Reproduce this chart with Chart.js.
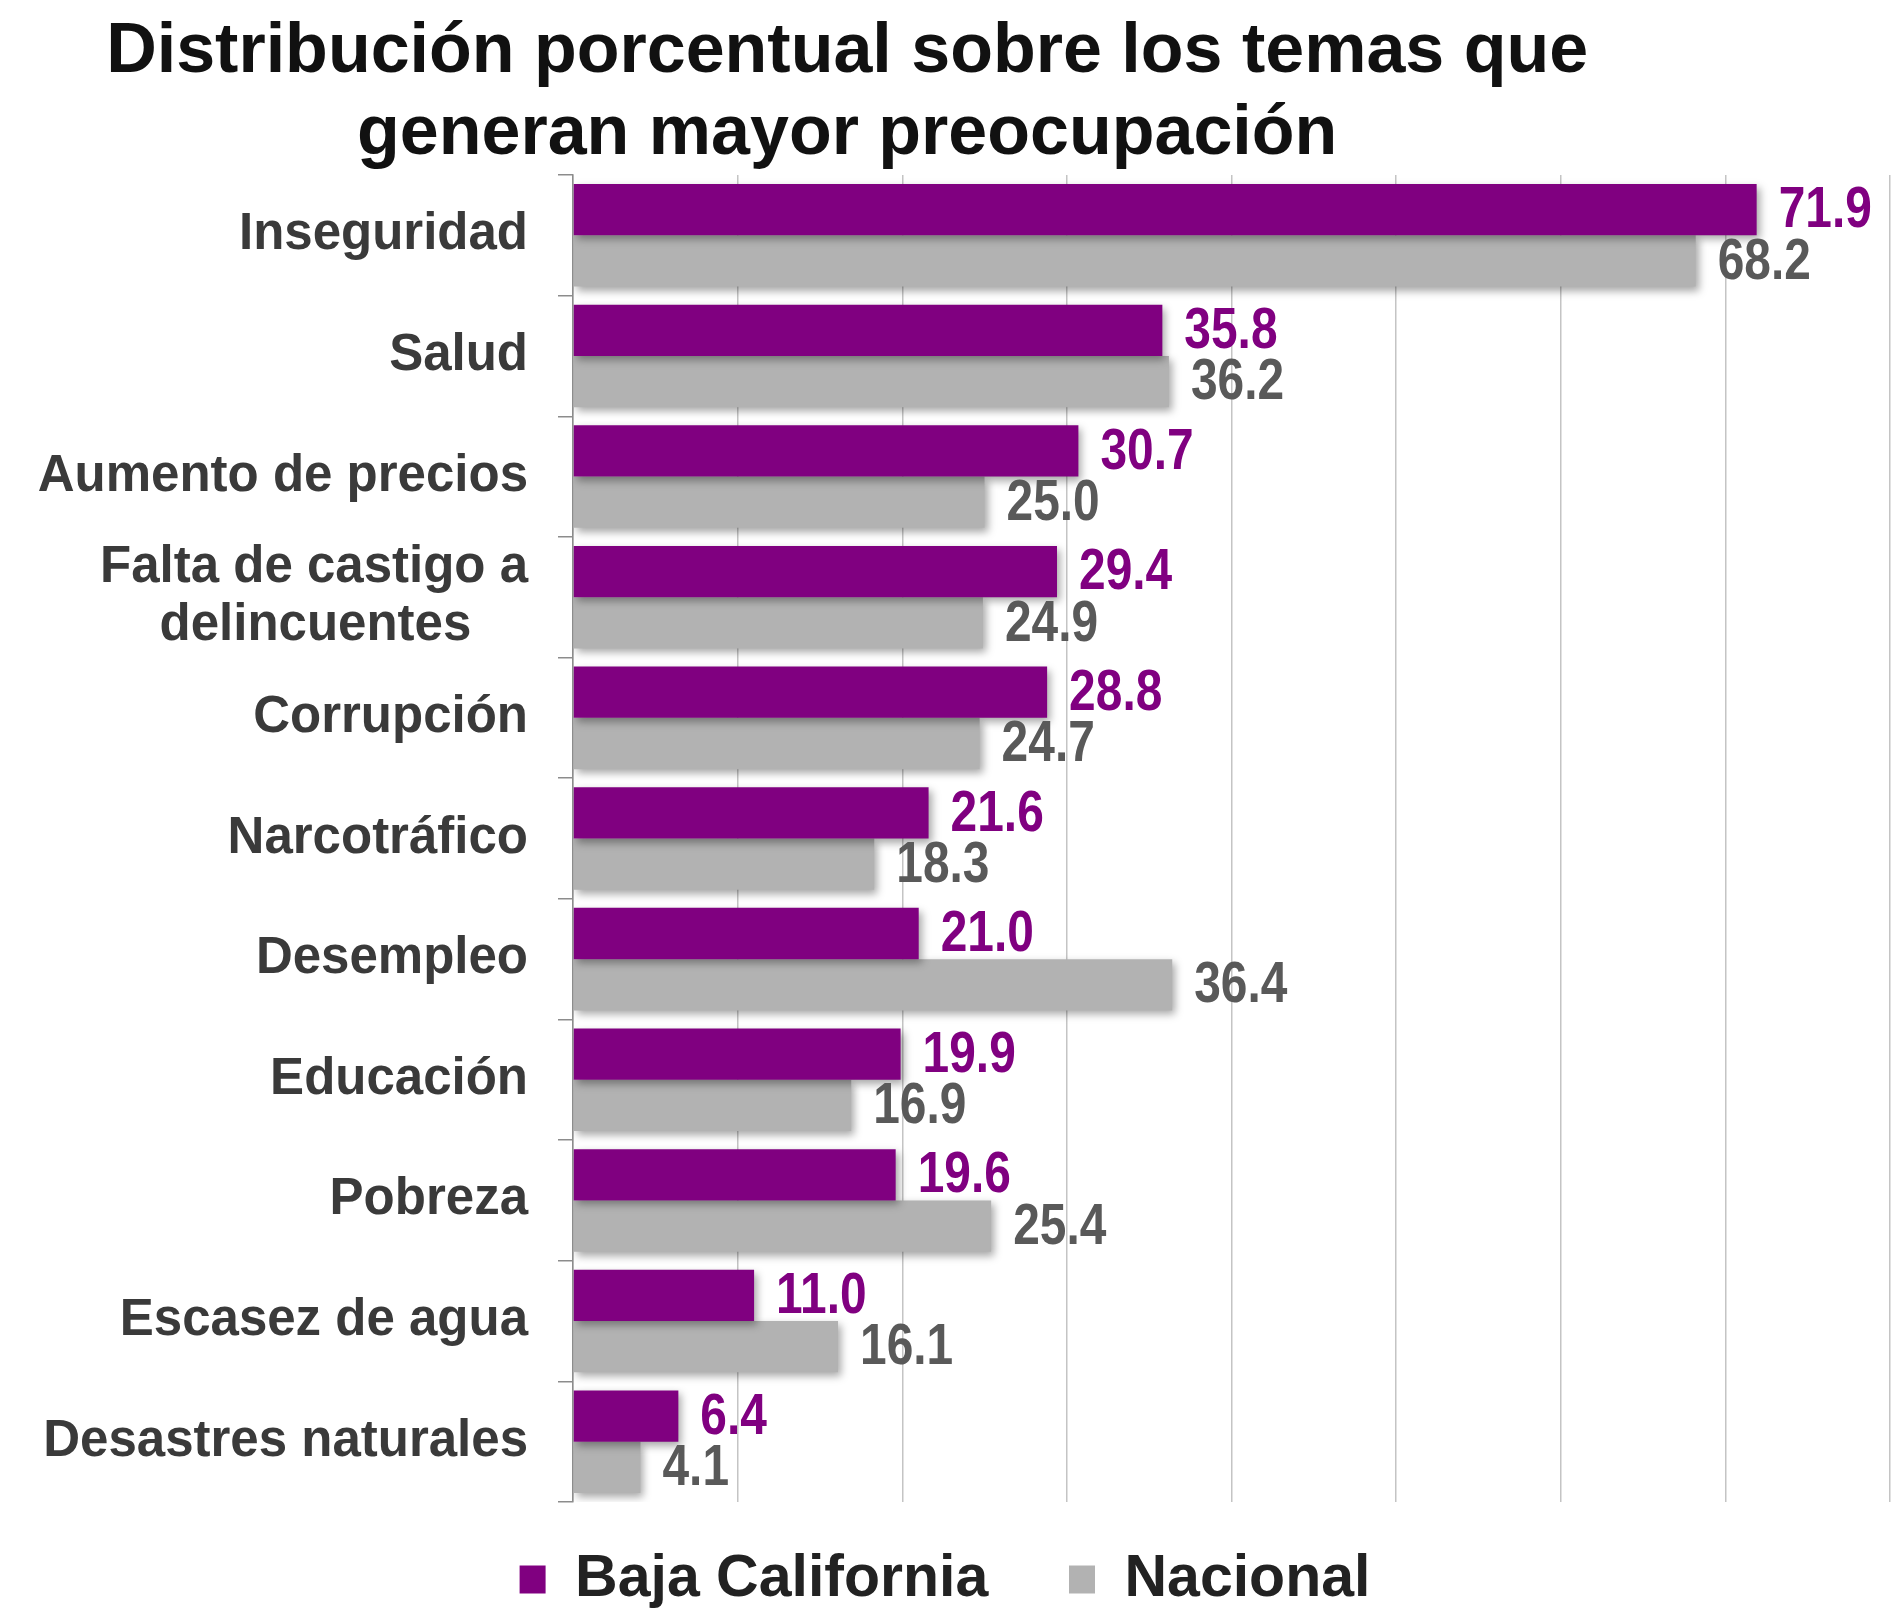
<!DOCTYPE html>
<html lang="es">
<head>
<meta charset="UTF-8">
<title>Distribución porcentual sobre los temas que generan mayor preocupación</title>
<script src="https://cdn.jsdelivr.net/npm/chart.js@4.4.1/dist/chart.umd.min.js"></script>
<style>
    html, body { margin: 0; padding: 0; background: #fff; }
    #wrap { width: 1891px; height: 1619px; position: relative; }
</style>
</head>
<body>
<div id="wrap"><canvas id="myChart"></canvas></div>
<script>

    const categorias = [
        "Inseguridad",
        "Salud",
        "Aumento de precios",
        ["Falta de castigo a", "delincuentes\u00a0\u00a0\u00a0\u00a0"],
        "Corrupción",
        "Narcotráfico",
        "Desempleo",
        "Educación",
        "Pobreza",
        "Escasez de agua",
        "Desastres naturales"
    ];
    const bajaCalifornia = [71.9, 35.8, 30.7, 29.4, 28.8, 21.6, 21.0, 19.9, 19.6, 11.0, 6.4];
    const nacional = [68.2, 36.2, 25.0, 24.9, 24.7, 18.3, 36.4, 16.9, 25.4, 16.1, 4.1];
    const series = ["Baja California", "Nacional"];
    const titulo = ["Distribución porcentual sobre los temas que", "generan mayor preocupación"];
    const ejeMin = 0, ejeMax = 80, ejePaso = 10;

    const morado = "#800080";
    const gris = "#b2b2b2";

    Chart.defaults.font.family = '"Liberation Sans", Arial, sans-serif';

    // titulo en dos lineas (centrado un poco a la izquierda, como en el original)
    const tituloPlugin = {
        id: "tituloPlugin",
        afterDraw(chart) {
            const ctx = chart.ctx;
            ctx.save();
            ctx.font = 'bold 70px "Liberation Sans", Arial, sans-serif';
            ctx.fillStyle = "#111";
            ctx.textAlign = "center";
            ctx.textBaseline = "alphabetic";
            const cx = chart.width * 0.448;
            ctx.fillText(titulo[0], cx, 72);
            ctx.fillText(titulo[1], cx, 154);
            ctx.restore();
        }
    };

    // sombra suave bajo las barras
    const sombraPlugin = {
        id: "sombraPlugin",
        beforeDatasetDraw(chart) {
            const ctx = chart.ctx;
            ctx.save();
            ctx.shadowColor = "rgba(0,0,0,0.35)";
            ctx.shadowBlur = 8;
            ctx.shadowOffsetX = 3;
            ctx.shadowOffsetY = 4;
        },
        afterDatasetDraw(chart) {
            chart.ctx.restore();
        }
    };

    // etiquetas de valor al final de cada barra (letra estrecha)
    const valoresPlugin = {
        id: "valoresPlugin",
        afterDatasetsDraw(chart) {
            const ctx = chart.ctx;
            chart.data.datasets.forEach((ds, i) => {
                const meta = chart.getDatasetMeta(i);
                meta.data.forEach((bar, j) => {
                    ctx.save();
                    ctx.font = 'bold 57px "Liberation Sans", Arial, sans-serif';
                    ctx.textAlign = "left";
                    ctx.textBaseline = "middle";
                    ctx.fillStyle = i === 0 ? morado : "#595959";
                    ctx.translate(bar.x + 22, bar.y + 2);
                    ctx.scale(0.84, 1);
                    ctx.fillText(ds.data[j].toFixed(1), 0, 0);
                    ctx.restore();
                });
            });
        }
    };

    const myChart = new Chart("myChart", {
        type: "bar",
        data: {
            labels: categorias,
            datasets: [
                {
                    label: series[0],
                    data: bajaCalifornia,
                    backgroundColor: morado,
                    categoryPercentage: 0.85,
                    barPercentage: 1.0
                },
                {
                    label: series[1],
                    data: nacional,
                    backgroundColor: gris,
                    categoryPercentage: 0.85,
                    barPercentage: 1.0
                }
            ]
        },
        options: {
            indexAxis: "y",
            responsive: true,
            maintainAspectRatio: false,
            animation: false,
            layout: {
                padding: { top: 175, right: 1, bottom: 0, left: 0 }
            },
            scales: {
                x: {
                    min: ejeMin,
                    max: ejeMax,
                    ticks: { display: false, stepSize: ejePaso },
                    grid: { color: "#c4c4c4", lineWidth: 1.5, drawTicks: false },
                    border: { display: false }
                },
                y: {
                    afterFit(scale) { scale.width = 573; },
                    ticks: {
                        color: "#3a3a3a",
                        padding: 30,
                        font: { size: 51, weight: "bold", lineHeight: 1.13 }
                    },
                    grid: {
                        offset: true,
                        drawOnChartArea: false,
                        drawTicks: true,
                        tickLength: 15,
                        color: "#8c8c8c",
                        lineWidth: 1.5
                    },
                    border: { display: true, color: "#8c8c8c", width: 1.5 }
                }
            },
            plugins: {
                legend: {
                    position: "bottom",
                    labels: {
                        color: "#222",
                        boxWidth: 26,
                        boxHeight: 28,
                        padding: 48,
                        font: { size: 59, weight: "bold" },
                        generateLabels(chart) {
                            const items = Chart.defaults.plugins.legend.labels.generateLabels(chart);
                            items[0].text = items[0].text + "\u00a0\u00a0";
                            return items;
                        }
                    }
                },
                title: { display: false },
                tooltip: { enabled: false }
            }
        },
        plugins: [tituloPlugin, sombraPlugin, valoresPlugin]
    });
</script>
</body>
</html>
